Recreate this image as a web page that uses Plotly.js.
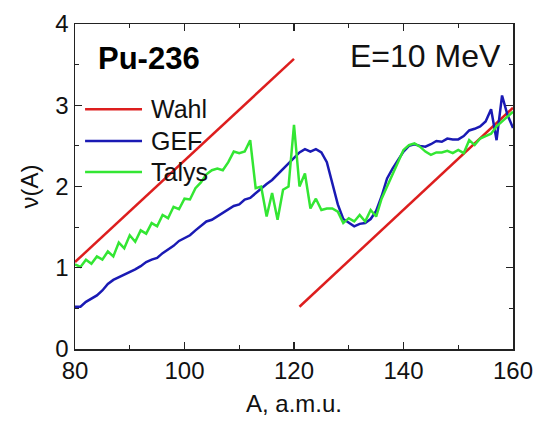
<!DOCTYPE html>
<html>
<head>
<meta charset="utf-8">
<script src="https://cdn.plot.ly/plotly-3.0.1.min.js"></script>
<style>html,body{margin:0;padding:0;background:#fff;}#chart{width:534px;height:421px;}</style>
</head>
<body>
<div id="chart"></div>
<script>
// Wahl systematics (two straight segments, separated by a gap)
const wahlA = [80, 120, null, 121, 160];
const wahlNu = [1.07, 3.57, null, 0.52, 2.97];

// GEF
const gefA = [80,81,82,83,84,85,86,87,88,89,90,91,92,93,94,95,96,97,98,99,100,101,102,103,104,105,106,107,108,109,110,111,112,113,114,115,116,117,118,119,120,121,122,123,124,125,126,127,128,129,130,131,132,133,134,135,136,137,138,139,140,141,142,143,144,145,146,147,148,149,150,151,152,153,154,155,156,157,158,159,160];
const gefNu = [0.52,0.52,0.58,0.62,0.66,0.72,0.80,0.85,0.88,0.92,0.95,0.98,1.02,1.07,1.10,1.12,1.18,1.22,1.27,1.33,1.36,1.40,1.46,1.52,1.57,1.59,1.63,1.67,1.72,1.76,1.78,1.84,1.86,1.92,1.97,2.03,2.08,2.15,2.22,2.29,2.36,2.42,2.46,2.43,2.46,2.42,2.30,2.04,1.78,1.60,1.55,1.51,1.54,1.55,1.60,1.70,1.88,2.10,2.22,2.33,2.43,2.50,2.52,2.50,2.49,2.52,2.56,2.55,2.59,2.58,2.58,2.62,2.69,2.71,2.74,2.80,2.95,2.57,3.12,2.88,2.72];

// Talys
const talysA = gefA;
const talysNu = [1.04,1.01,1.10,1.05,1.14,1.10,1.20,1.14,1.31,1.24,1.40,1.32,1.46,1.42,1.55,1.51,1.65,1.61,1.75,1.72,1.85,1.84,1.98,2.05,2.15,2.20,2.22,2.20,2.30,2.43,2.41,2.43,2.57,1.98,2.00,1.63,1.92,1.59,1.96,2.00,2.76,2.00,2.16,1.73,1.85,1.71,1.73,1.73,1.69,1.55,1.61,1.57,1.65,1.57,1.71,1.63,1.85,2.00,2.15,2.28,2.45,2.51,2.53,2.49,2.43,2.39,2.42,2.42,2.44,2.41,2.45,2.41,2.57,2.51,2.59,2.62,2.65,2.74,2.80,2.86,2.92];

const seriesNames = ['Wahl', 'GEF', 'Talys'];
const seriesColors = ['#dd1e1e', '#1a1ab4', '#33e633'];
const xTickVals = [80, 100, 120, 140, 160];
const yTickVals = [0, 1, 2, 3, 4];
const panelLabel = 'Pu-236';
const energyLabel = 'E=10 MeV';

const FONT = 'Liberation Sans, Arial, sans-serif';

const traces = [
  {x: wahlA, y: wahlNu, name: seriesNames[0]},
  {x: gefA, y: gefNu, name: seriesNames[1]},
  {x: talysA, y: talysNu, name: seriesNames[2]}
].map((t, i) => Object.assign(t, {
  type: 'scatter', mode: 'lines', connectgaps: false, showlegend: false,
  line: {color: seriesColors[i], width: 2.5}
}));

// manual legend (long line samples like the original)
const legendY = [0.738, 0.640, 0.545];
const shapes = seriesNames.map((n, i) => ({
  type: 'line', xref: 'paper', yref: 'paper',
  x0: 0.023, x1: 0.153, y0: legendY[i], y1: legendY[i],
  line: {color: seriesColors[i], width: 2.5}
}));
const annotations = seriesNames.map((n, i) => ({
  xref: 'paper', yref: 'paper', x: 0.169, y: legendY[i],
  xanchor: 'left', yanchor: 'middle', showarrow: false,
  text: n, font: {family: FONT, size: 25, color: '#111'}
}));
annotations.push({
  xref: 'paper', yref: 'paper', x: 0.048, y: 0.893, xanchor: 'left', yanchor: 'middle',
  showarrow: false, text: '<b>' + panelLabel + '</b>', font: {family: FONT, size: 31, color: '#000'}
});
annotations.push({
  xref: 'paper', yref: 'paper', x: 0.977, y: 0.903, xanchor: 'right', yanchor: 'middle',
  showarrow: false, text: energyLabel, font: {family: FONT, size: 32, color: '#111'}
});

const axisCommon = {
  showgrid: false, zeroline: false, showline: true, linecolor: '#222', linewidth: 1.5,
  mirror: 'ticks', ticks: 'inside', ticklen: 7, tickwidth: 1.3, tickcolor: '#222',
  tickfont: {family: FONT, size: 24, color: '#111'},
  title: {font: {family: FONT, size: 24, color: '#111'}}
};

const layout = {
  width: 534, height: 421,
  margin: {l: 75, r: 21, t: 24, b: 72},
  paper_bgcolor: '#fff', plot_bgcolor: '#fff',
  showlegend: false,
  xaxis: Object.assign({}, axisCommon, {
    range: [80, 160], tickvals: xTickVals, ticktext: xTickVals.map(String),
    minor: {dtick: 10, ticks: 'inside', ticklen: 4, tickcolor: '#222', tickwidth: 1.2},
    title: {text: 'A, a.m.u.', font: {family: FONT, size: 24, color: '#111'}, standoff: 12}
  }),
  yaxis: Object.assign({}, axisCommon, {
    range: [0, 4], tickvals: yTickVals, ticktext: yTickVals.map(String),
    minor: {dtick: 0.5, ticks: 'inside', ticklen: 4, tickcolor: '#222', tickwidth: 1.2},
    title: {text: 'ν(A)', font: {family: FONT, size: 24, color: '#111'}, standoff: 10}
  }),
  shapes: shapes,
  annotations: annotations
};

Plotly.newPlot('chart', traces, layout, {displayModeBar: false, staticPlot: true});
</script>
</body>
</html>
